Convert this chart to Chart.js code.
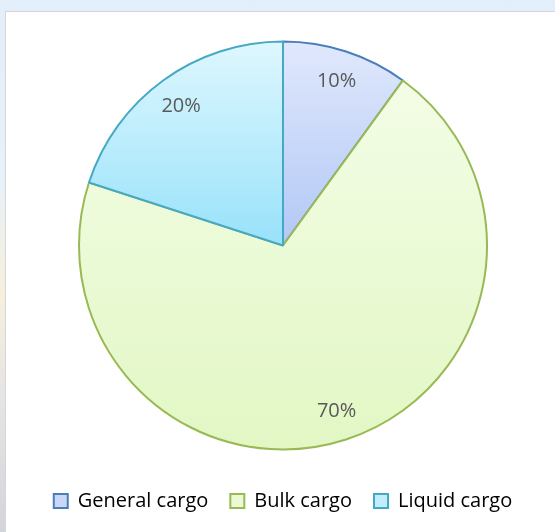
<!DOCTYPE html>
<html>
<head>
<meta charset="utf-8">
<script src="https://cdn.jsdelivr.net/npm/chart.js@4/dist/chart.umd.min.js"></script>
<style>
  html, body { margin: 0; padding: 0; }
  body {
    width: 555px; height: 532px; overflow: hidden; position: relative;
    background: linear-gradient(to bottom, #e2eefa 0%, #e9f1f8 35%, #f6f0dc 55%, #e6e4e4 75%, #d3d5dc 100%);
  }
  #box {
    position: absolute; left: 5px; top: 11px; width: 560px; height: 530px;
    background: #fff; border: 1px solid #d6d6d6;
  }
  canvas { position: absolute; left: 0; top: 0; }
</style>
</head>
<body>
<div id="box"><canvas id="chart" width="549" height="520"></canvas></div>
<script>
document.addEventListener('DOMContentLoaded', function () {

    //Categories and values (percent)
    const categories = ['General cargo', 'Bulk cargo', 'Liquid cargo'];
    const shares = [10, 70, 20];

    //Slice colours: top / bottom of gradient, border
    const topColors = ['#e0e8fc', '#f3fde6', '#def7fe'];
    const bottomColors = ['#b2c8f6', '#e2f7c4', '#98e2fa'];
    const borderColors = ['#4a7ebb', '#98b954', '#46a9c4'];
    const legendFills = ['#c9d8f9', '#ebfad5', '#c1eefc'];

    const pieRadius = 204;

    function sliceGradient(context) {
        const chart = context.chart;
        const area = chart.chartArea;
        const i = context.dataIndex;
        if (!area) return topColors[i];
        const cy = (area.top + area.bottom) / 2;
        let y0 = cy - pieRadius, y1 = cy;
        if (i === 1) { y0 = cy - pieRadius * 0.8; y1 = cy + pieRadius; }
        const g = chart.ctx.createLinearGradient(0, y0, 0, y1);
        g.addColorStop(0, topColors[i]);
        g.addColorStop(1, bottomColors[i]);
        return g;
    }

    //percent labels inside the slices
    const sliceLabels = {
        id: 'sliceLabels',
        afterDatasetsDraw(chart) {
            const ctx = chart.ctx;
            const meta = chart.getDatasetMeta(0);
            ctx.save();
            ctx.font = '20px "Open Sans"';
            ctx.fillStyle = '#595959';
            ctx.textAlign = 'center';
            ctx.textBaseline = 'middle';
            meta.data.forEach(function (arc, i) {
                const mid = (arc.startAngle + arc.endAngle) / 2;
                const d = arc.outerRadius * 0.85;
                ctx.fillText(shares[i] + '%', arc.x + Math.cos(mid) * d, arc.y + Math.sin(mid) * d + 1);
            });
            ctx.restore();
        }
    };

    new Chart(document.getElementById('chart'), {
        type: 'pie',
        data: {
            labels: categories,
            datasets: [{
                data: shares,
                backgroundColor: sliceGradient,
                borderColor: borderColors,
                borderWidth: 2,
                radius: pieRadius
            }]
        },
        options: {
            responsive: false,
            animation: false,
            events: [],
            layout: { padding: { left: 5, right: 0, top: 10, bottom: 11 } },
            plugins: {
                tooltip: { enabled: false },
                legend: {
                    position: 'bottom',
                    labels: {
                        color: '#000',
                        font: { family: '"Open Sans"', size: 20 },
                        boxWidth: 14,
                        boxHeight: 14,
                        padding: 22,
                        generateLabels: function () {
                            return categories.map(function (c, i) {
                                return {
                                    text: c,
                                    fillStyle: legendFills[i],
                                    strokeStyle: borderColors[i],
                                    lineWidth: 2,
                                    index: i
                                };
                            });
                        }
                    }
                }
            }
        },
        plugins: [sliceLabels]
    });

});
</script>
</body>
</html>
